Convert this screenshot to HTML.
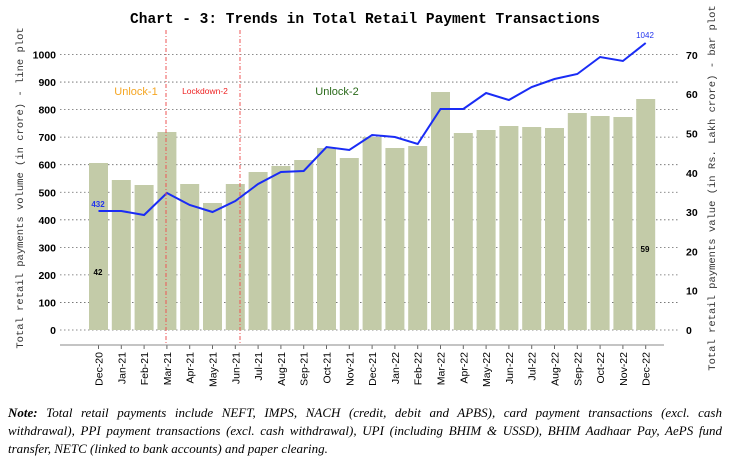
<!DOCTYPE html>
<html><head><meta charset="utf-8"><style>
body{margin:0;background:#fff;width:731px;height:460px;overflow:hidden}
.note{position:absolute;left:8px;top:404px;width:714px;font-family:"Liberation Serif",serif;font-style:italic;font-size:13px;line-height:18px;color:#000}
.note div{white-space:nowrap}
.j{text-align:justify;text-align-last:justify}
</style></head><body>
<svg id="c" width="731" height="400" style="position:absolute;left:0;top:0" font-family="Liberation Sans, sans-serif"></svg>
<div class="note">
<div class="j"><b>Note:</b> Total retail payments include NEFT, IMPS, NACH (credit, debit and APBS), card payment transactions (excl. cash</div>
<div class="j">withdrawal), PPI payment transactions (excl. cash withdrawal), UPI (including BHIM &amp; USSD), BHIM Aadhaar Pay, AePS fund</div>
<div>transfer, NETC (linked to bank accounts) and paper clearing.</div>
</div>
<script>
const s=document.getElementById('c');let h='';
const y0=330,ppu=0.2755;
h+='<text x="365" y="23" text-anchor="middle" font-family="Liberation Mono, monospace" font-weight="bold" font-size="14.5">Chart - 3: Trends in Total Retail Payment Transactions</text>';
for(let v=0;v<=1000;v+=100){const y=y0-v*ppu;
h+=`<line x1="60" x2="680" y1="${y}" y2="${y}" stroke="#666" stroke-width="0.8" stroke-dasharray="1.5,2.5"/>`;
h+=`<text x="56" y="${y+4}" text-anchor="end" font-weight="bold" font-size="10.5">${v}</text>`;}
for(let v=0;v<=70;v+=10){const y=y0-v*3.93;h+=`<text x="686" y="${y+4}" font-weight="bold" font-size="10.5">${v}</text>`;}
h+='<text transform="translate(23,188) rotate(-90)" text-anchor="middle" font-family="Liberation Mono, monospace" font-size="10.5" fill="#333">Total retail payments volume (in crore) - line plot</text>';
h+='<text transform="translate(715,188) rotate(-90)" text-anchor="middle" font-family="Liberation Mono, monospace" font-size="10.5" fill="#333">Total retail payments value (in Rs. Lakh crore) - bar plot</text>';
const bt=[163,180,185,132,184,203,184,172,166,160,148,158,137,148,146,92,133,130,126,127,128,113,116,117,99];
const lt=[211,211,215,193,205,212,201,184,172,171,147,150,135,137,144,109,109,93,100,87,79,74,57,61,43];
const m=['Dec-20','Jan-21','Feb-21','Mar-21','Apr-21','May-21','Jun-21','Jul-21','Aug-21','Sep-21','Oct-21','Nov-21','Dec-21','Jan-22','Feb-22','Mar-22','Apr-22','May-22','Jun-22','Jul-22','Aug-22','Sep-22','Oct-22','Nov-22','Dec-22'];
const X=i=>98.5+i*22.8;
bt.forEach((t,i)=>{h+=`<rect x="${X(i)-9.5}" y="${t}" width="19" height="${y0-t}" fill="#c3cba8"/>`;
h+=`<line x1="${X(i)}" x2="${X(i)}" y1="345" y2="349" stroke="#666"/>`;
h+=`<text transform="translate(${X(i)+4},352) rotate(-90)" text-anchor="end" font-size="10.5">${m[i]}</text>`;});
h+='<line x1="60" x2="664" y1="345" y2="345" stroke="#888"/>';
h+='<polyline fill="none" stroke="#1a2cf5" stroke-width="2" points="'+lt.map((t,i)=>X(i)+','+t).join(' ')+'"/>';
[166,240].forEach(x=>h+=`<line x1="${x}" x2="${x}" y1="30" y2="345" stroke="#e55" stroke-width="1" stroke-dasharray="4,2,1,2"/>`);
h+='<text x="136" y="95" text-anchor="middle" font-size="11" fill="#f5a623">Unlock-1</text>';
h+='<text x="205" y="94" text-anchor="middle" font-size="8.5" fill="#e22">Lockdown-2</text>';
h+='<text x="337" y="95" text-anchor="middle" font-size="11" fill="#2a6a1a">Unlock-2</text>';
h+='<text x="98" y="207" text-anchor="middle" font-size="8" font-weight="bold" fill="#2233ee">432</text>';
h+='<text x="645" y="38" text-anchor="middle" font-size="8" fill="#2233ee">1042</text>';
h+='<text x="98" y="275" text-anchor="middle" font-size="8" font-weight="bold">42</text>';
h+='<text x="645" y="252" text-anchor="middle" font-size="8" font-weight="bold">59</text>';
s.innerHTML=h;
</script>
</body></html>
